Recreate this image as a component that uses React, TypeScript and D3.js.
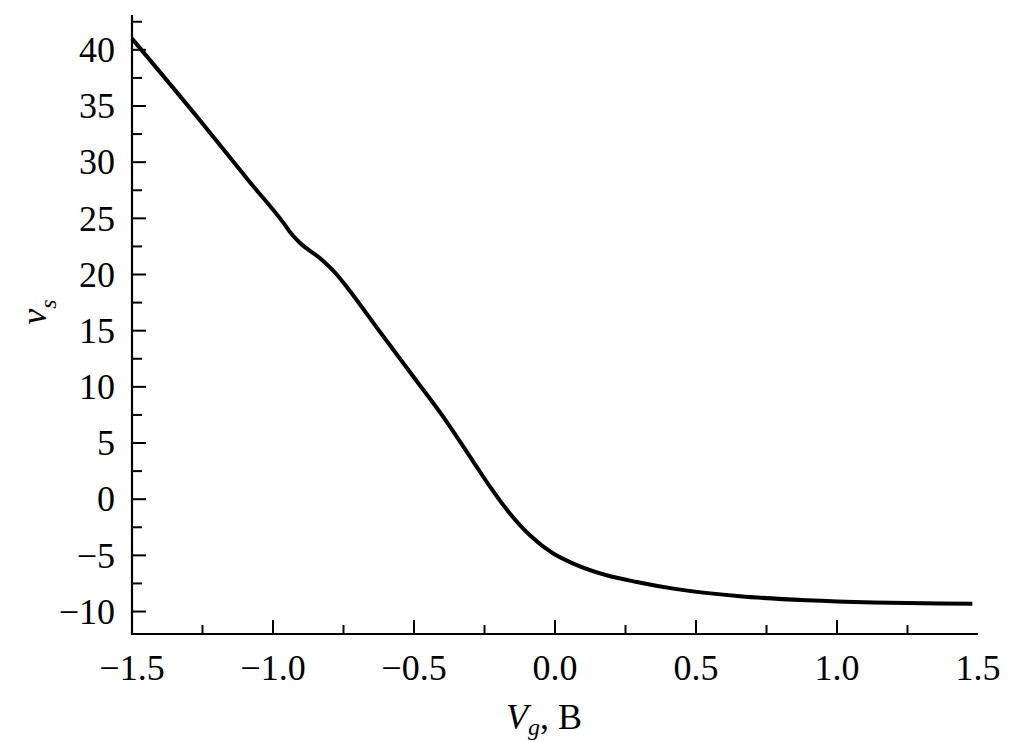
import React from "react";
import * as d3 from "d3";

const vgValues = [-1.5, -1.25, -1.081, -0.963, -0.934, -0.904, -0.833, -0.774, -0.739, -0.621, -0.502, -0.384, -0.29, -0.23, -0.16, -0.089, -0.006, 0.065, 0.183, 0.29, 0.42, 0.656, 0.893, 1.129, 1.365, 1.48];
const vsValues = [41.0, 33.45, 28.2, 24.6, 23.6, 22.8, 21.44, 20.0, 18.91, 14.9, 10.9, 6.89, 3.35, 1.1, -1.27, -3.21, -4.84, -5.73, -6.77, -7.37, -7.96, -8.64, -9.0, -9.2, -9.29, -9.3];

const xMajorTicks = [-1.5, -1.0, -0.5, 0.0, 0.5, 1.0, 1.5];
const xMinorTicks = [-1.25, -0.75, -0.25, 0.25, 0.75, 1.25];
const yMajorTicks = [-10, -5, 0, 5, 10, 15, 20, 25, 30, 35, 40];
const yMinorTicks = [-7.5, -2.5, 2.5, 7.5, 12.5, 17.5, 22.5, 27.5, 32.5, 37.5, 42.5];

const fmtNum = (v: number, digits: number) => {
  const s = v.toFixed(digits);
  return s.startsWith("-") ? "\u2212" + s.slice(1) : s;
};

export default function App() {
  const W = 1020, H = 742;
  const x = d3.scaleLinear().domain([-1.5, 1.5]).range([132, 978]);
  const y = d3.scaleLinear().domain([-12, 43.1]).range([634, 15]);
  const data = vgValues.map((v, i) => [v, vsValues[i]] as [number, number]);
  const line = d3.line<[number, number]>().x(d => x(d[0])).y(d => y(d[1])).curve(d3.curveMonotoneX);
  const font = "'Liberation Serif', 'Times New Roman', serif";
  const x0 = x(-1.5), yB = y(-12);
  return (
    <svg width={W} height={H} style={{ position: "absolute", left: 0, top: 0, background: "#fff" }} fontFamily={font}>
      <rect x={0} y={0} width={W} height={H} fill="#fff" />
      <line x1={x0} x2={x0} y1={y(43.1)} y2={yB + 1} stroke="#000" strokeWidth={2.2} />
      <line x1={x0 - 1} x2={x(1.5)} y1={yB} y2={yB} stroke="#000" strokeWidth={2} />
      {yMajorTicks.map(t => (
        <g key={"ym" + t}>
          <line x1={x0} x2={x0 + 14} y1={y(t)} y2={y(t)} stroke="#000" strokeWidth={2} />
          <text x={115} y={y(t)} dy="0.34em" textAnchor="end" fontSize={36}>{fmtNum(t, 0)}</text>
        </g>
      ))}
      {yMinorTicks.map(t => (
        <line key={"yn" + t} x1={x0} x2={x0 + 10} y1={y(t)} y2={y(t)} stroke="#000" strokeWidth={2} />
      ))}
      {xMajorTicks.map(t => (
        <g key={"xm" + t}>
          {t > -1.5 && t < 1.5 && <line x1={x(t)} x2={x(t)} y1={yB} y2={yB - 14} stroke="#000" strokeWidth={2} />}
          <text x={x(t)} y={680} textAnchor="middle" fontSize={36}>{fmtNum(t, 1)}</text>
        </g>
      ))}
      {xMinorTicks.map(t => (
        <line key={"xn" + t} x1={x(t)} x2={x(t)} y1={yB} y2={yB - 9} stroke="#000" strokeWidth={2} />
      ))}
      <path d={line(data) || ""} fill="none" stroke="#000" strokeWidth={4} strokeLinejoin="round" />
      <text x={506} y={729} fontSize={36}>
        <tspan fontStyle="italic">V</tspan>
        <tspan fontStyle="italic" fontSize={24} dy={6}>g</tspan>
        <tspan dy={-6}>, B</tspan>
      </text>
      <text transform="translate(46,312) rotate(-90)" textAnchor="middle" fontSize={36}>
        <tspan fontStyle="italic">v</tspan>
        <tspan fontStyle="italic" fontSize={24} dy={10}>s</tspan>
      </text>
    </svg>
  );
}
